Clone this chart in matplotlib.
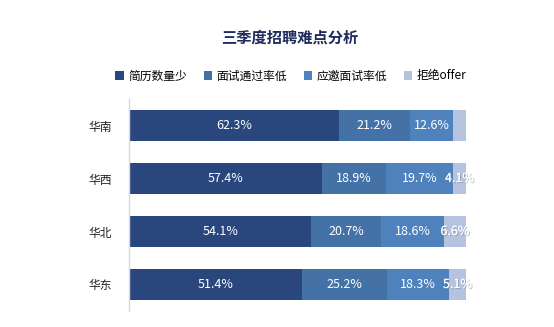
import matplotlib
matplotlib.use("Agg")
import matplotlib.pyplot as plt
import matplotlib.patheffects as pe
from matplotlib.patches import Patch
import numpy as np

plt.rcParams['font.family'] = ['Noto Sans CJK SC', 'DejaVu Sans']

title = "三季度招聘难点分析"
categories = ["华南", "华西", "华北", "华东"]
series_names = ["简历数量少", "面试通过率低", "应邀面试率低", "拒绝offer"]
values = {
    "简历数量少": [62.3, 57.4, 54.1, 51.4],
    "面试通过率低": [21.2, 18.9, 20.7, 25.2],
    "应邀面试率低": [12.6, 19.7, 18.6, 18.3],
    "拒绝offer": [3.9, 4.1, 6.6, 5.1],
}
show_label = {
    "拒绝offer": [False, True, True, True],
}
colors = ["#2A477D", "#4472A6", "#4F81BD", "#B6C3DF"]

fig = plt.figure(figsize=(5.54, 3.27), dpi=100)
ax = fig.add_axes([129/554, 1-311/327, (466-129)/554, 212/327])

y = np.arange(len(categories))
left = np.zeros(len(categories))
for name, c in zip(series_names, colors):
    v = np.array(values[name])
    ax.barh(y, v, left=left, color=c, height=0.59, edgecolor='none')
    flags = show_label.get(name, [True]*len(v))
    for i, (val, l) in enumerate(zip(v, left)):
        if not flags[i]:
            continue
        kw = {}
        if name == "拒绝offer":
            kw['path_effects'] = [pe.withSimplePatchShadow(offset=(0.8, -0.8), shadow_rgbFace='#888888', alpha=0.6), pe.Normal()]
        ax.text(l + val/2, i, f"{val:.1f}%", ha='center', va='center',
                color='white', fontsize=9, **kw)
    left += v

ax.set_xlim(0, 100)
ax.set_ylim(len(categories)-0.5, -0.5)
ax.set_yticks(y)
ax.set_yticklabels(categories, fontsize=8.5, color='#222222')
ax.set_xticks([])
ax.tick_params(axis='y', length=0, pad=12)
for s in ['top', 'right', 'bottom']:
    ax.spines[s].set_visible(False)
ax.spines['left'].set_color('#D9D9D9')
ax.spines['left'].set_linewidth(1)

fig.text(290/554, 1-38/327, title, ha='center', va='center', fontsize=11,
         fontweight='bold', color='#1F2B5C')

handles = [Patch(facecolor=c, edgecolor='none') for c in colors]
fig.legend(handles, series_names, loc='center', bbox_to_anchor=(291/554, 1-76/327),
           ncol=4, frameon=False, fontsize=8.5, handlelength=0.7, handleheight=0.7,
           handletextpad=0.4, columnspacing=1.4, borderaxespad=0)

fig.savefig("out.png", dpi=100)
